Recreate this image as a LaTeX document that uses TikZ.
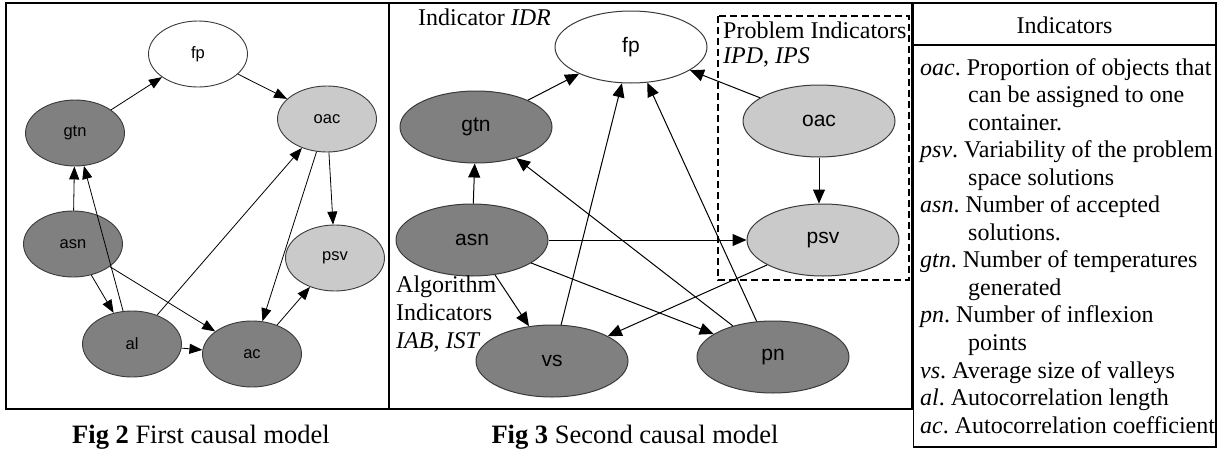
\documentclass[tikz,border=0pt]{standalone}
\usepackage{fontspec}
\setmainfont{Liberation Serif}
\setsansfont{Liberation Sans}
\usetikzlibrary{shapes.geometric,arrows.meta}
\definecolor{darkg}{HTML}{808080}
\definecolor{lightg}{HTML}{CACACA}
\definecolor{rimc}{HTML}{3A3A3A}
\frenchspacing
\begin{document}
\frenchspacing
\begin{tikzpicture}[x=1pt,y=-1pt,
  frame/.style={line width=1.6pt},
  nodeA/.style={ellipse, draw=rimc, line width=0.9pt, minimum width=99pt, minimum height=66pt, inner sep=0pt, font=\sffamily\fontsize{16.5}{16.5}\selectfont},
  nodeB/.style={ellipse, draw=rimc, line width=1pt, minimum width=152pt, minimum height=72pt, inner sep=0pt, font=\sffamily\fontsize{21}{21}\selectfont},
  darkfill/.style={fill=darkg},
  lightfill/.style={fill=lightg},
  plainfill/.style={fill=white},
  edgeA/.style={-{Triangle[length=13pt,width=10pt]}, line width=0.8pt},
  edgeB/.style={-{Triangle[length=14pt,width=12pt]}, line width=1pt},
  txt/.style={font=\fontsize{24}{27.5}\selectfont, inner sep=0pt, anchor=base west},
  figcap/.style={font=\fontsize{26.5}{30}\selectfont, inner sep=0pt, anchor=base},
]
\useasboundingbox (0,0) rectangle (1221,450);

% frames
\draw[frame] (6,3) rectangle (912,409);
\draw[frame] (389,3) -- (389,409);
\draw[frame] (913.5,3) rectangle (1216,447);
\draw[frame] (913.5,45) -- (1216,45);

% ---------- Fig 2 ----------
\node[nodeA, plainfill] (fpA) at (198,54) {fp};
\node[nodeA, lightfill] (oacA) at (327,119) {oac};
\node[nodeA, darkfill] (gtnA) at (75,133) {gtn};
\node[nodeA, darkfill] (asnA) at (73,244) {asn};
\node[nodeA, lightfill] (psvA) at (335,258) {psv};
\node[nodeA, darkfill] (alA) at (132,344) {al};
\node[nodeA, darkfill] (acA) at (252,354) {ac};

\draw[edgeA] (gtnA) -- (fpA);
\draw[edgeA] (fpA) -- (oacA);
\draw[edgeA] (asnA) -- (gtnA);
\draw[edgeA] (alA) -- (gtnA);
\draw[edgeA] (asnA) -- (alA);
\draw[edgeA] (asnA) -- (acA);
\draw[edgeA] (alA) -- (oacA);
\draw[edgeA] (oacA) -- (acA);
\draw[edgeA] (oacA) -- (psvA);
\draw[edgeA] (alA) -- (acA);
\draw[edgeA] (acA) -- (psvA);

\node[figcap] (cap2) at (201,443) {\textbf{Fig 2} First causal model};

% ---------- Fig 3 ----------
\draw[line width=1.2pt, dash pattern=on 7pt off 4pt] (718,16) rectangle (909,280);

\node[nodeB, plainfill] (fpB) at (631,47) {fp};
\node[nodeB, darkfill] (gtnB) at (476,127) {gtn};
\node[nodeB, lightfill] (oacB) at (819,121) {oac};
\node[nodeB, darkfill] (asnB) at (472,240) {asn};
\node[nodeB, lightfill] (psvB) at (823,240) {psv};
\node[nodeB, darkfill] (vsB) at (552,361) {vs};
\node[nodeB, darkfill] (pnB) at (773,357) {pn};

\draw[edgeB] (gtnB) -- (fpB);
\draw[edgeB] (oacB) -- (fpB);
\draw[edgeB] (asnB) -- (gtnB);
\draw[edgeB] (asnB) -- (psvB);
\draw[edgeB] (oacB.south) -- (psvB.north -| oacB.south);
\draw[edgeB] (vsB) -- (fpB);
\draw[edgeB] (pnB) -- (fpB);
\draw[edgeB] (pnB) -- (gtnB);
\draw[edgeB] (asnB) -- (vsB);
\draw[edgeB] (asnB) -- (pnB);
\draw[edgeB] (psvB) -- (vsB);

\node[txt] (lidr) at (418,25) {Indicator \textit{IDR}};
\node[txt] (lprob1) at (723,38) {Problem Indicators};
\node[txt] (lprob2) at (723,63) {\textit{IPD}, \textit{IPS}};
\node[txt] (lalg1) at (396,292) {Algorithm};
\node[txt] (lalg2) at (396,320) {Indicators};
\node[txt] (lalg3) at (396,348) {\textit{IAB}, \textit{IST}};

\node[figcap] (cap3) at (635,443) {\textbf{Fig 3} Second causal model};

% ---------- table ----------
\node[txt, anchor=base] (thead) at (1064.5,33) {Indicators};
\node[txt] (t1) at (920,75) {\textit{oac}. Proportion of objects that};
\node[txt] (t2) at (968,102.5) {can be assigned to one};
\node[txt] (t3) at (968,130.1) {container.};
\node[txt] (t4) at (920,157.6) {\textit{psv}. Variability of the problem};
\node[txt] (t5) at (968,185.2) {space solutions};
\node[txt] (t6) at (920,212.7) {\textit{asn}. Number of accepted};
\node[txt] (t7) at (968,240.3) {solutions.};
\node[txt] (t8) at (920,267.8) {\textit{gtn}. Number of temperatures};
\node[txt] (t9) at (968,295.4) {generated};
\node[txt] (t10) at (920,322.9) {\textit{pn}. Number of inflexion};
\node[txt] (t11) at (968,350.5) {points};
\node[txt] (t12) at (920,378) {\textit{vs}. Average size of valleys};
\node[txt] (t13) at (920,405.6) {\textit{al}. Autocorrelation length};
\node[txt] (t14) at (920,433.1) {\textit{ac}. Autocorrelation coefficient};
\end{tikzpicture}
\end{document}
